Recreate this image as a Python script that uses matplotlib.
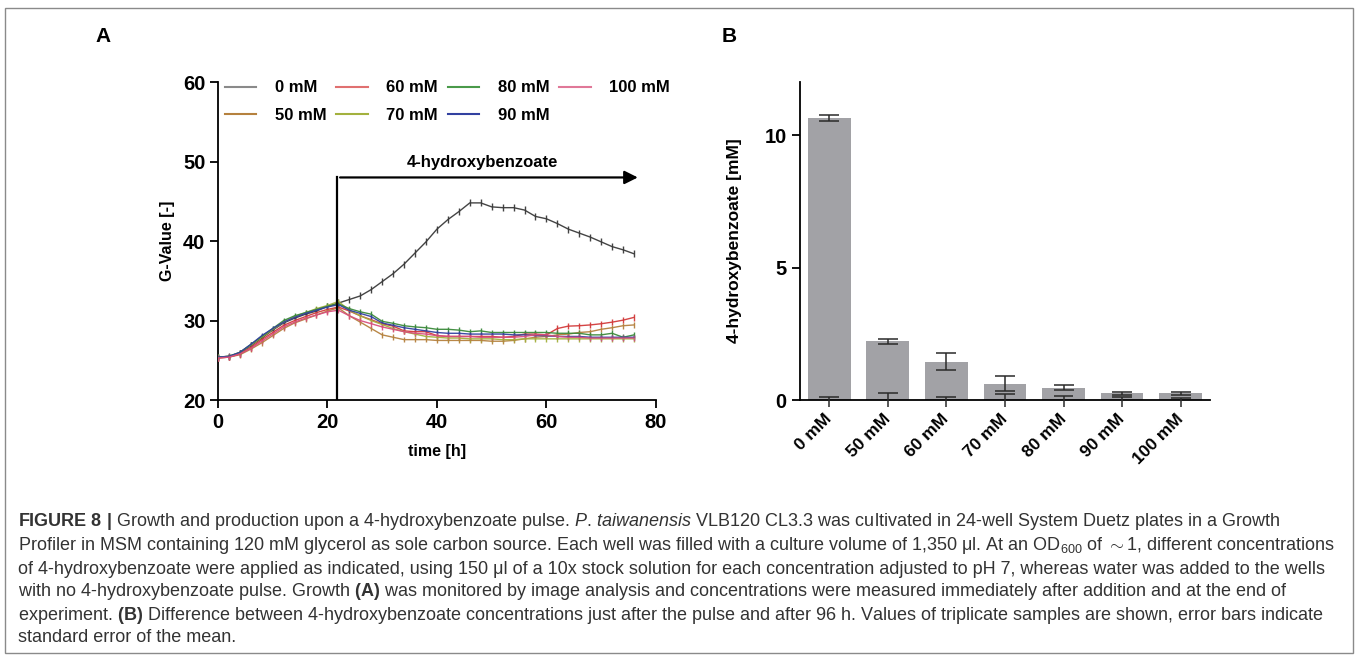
import numpy as np
import matplotlib
matplotlib.use("Agg")
import matplotlib.pyplot as plt
import matplotlib.transforms as mtransforms
from matplotlib.patches import Rectangle

plt.rcParams['font.family'] = ['Liberation Sans', 'DejaVu Sans']
plt.rcParams['mathtext.fontset'] = 'custom'
plt.rcParams['mathtext.rm'] = 'Liberation Sans'
plt.rcParams['mathtext.bf'] = 'Liberation Sans:bold'
plt.rcParams['mathtext.it'] = 'Liberation Sans:italic'

# --- panel A: growth curves (G-value vs time) ---
time_h = list(range(0, 78, 2))
pulse_t = 21.8

g0 = [25.4, 25.5, 25.9, 26.8, 27.8, 28.8, 29.7, 30.3, 30.8, 31.2, 31.8, 32.2,
      32.65, 33.1, 33.9, 34.9, 35.9, 37.1, 38.5, 39.9, 41.5, 42.7, 43.7, 44.8, 44.8,
      44.3, 44.2, 44.2, 43.9, 43.1, 42.8, 42.2, 41.5, 41.0, 40.5, 39.9, 39.3, 38.9, 38.4]
g50 = [25.3, 25.4, 25.7, 26.4, 27.2, 28.1, 29.0, 29.7, 30.2, 30.7, 31.2, 31.6,
       30.6, 29.8, 29.0, 28.2, 27.9, 27.6, 27.6, 27.6, 27.5, 27.5, 27.5, 27.5, 27.5,
       27.4, 27.4, 27.5, 27.7, 27.9, 28.0, 28.2, 28.3, 28.5, 28.6, 28.9, 29.1, 29.35, 29.45]
g60 = [25.3, 25.4, 25.8, 26.6, 27.6, 28.5, 29.4, 30.0, 30.5, 31.0, 31.4, 31.7,
       31.2, 30.6, 30.1, 29.6, 29.3, 28.7, 28.6, 28.6, 28.1, 28.0, 28.0, 28.0, 28.0,
       28.0, 27.9, 28.0, 28.3, 28.3, 28.2, 29.0, 29.3, 29.35, 29.45, 29.6, 29.8, 30.05, 30.4]
g70 = [25.4, 25.5, 26.0, 26.9, 27.9, 28.9, 29.8, 30.5, 31.0, 31.5, 31.9, 32.4,
       31.3, 30.6, 30.0, 29.5, 29.0, 28.6, 28.3, 28.0, 27.9, 27.8, 27.8, 27.7, 27.7,
       27.7, 27.6, 27.6, 27.7, 27.7, 27.7, 27.7, 27.7, 27.7, 27.7, 27.7, 27.7, 27.7, 27.7]
g80 = [25.4, 25.5, 26.0, 27.0, 28.0, 29.0, 30.0, 30.6, 31.0, 31.4, 31.8, 32.1,
       31.5, 31.1, 30.8, 29.9, 29.65, 29.35, 29.2, 29.1, 28.9, 28.9, 28.8, 28.6, 28.7,
       28.5, 28.5, 28.5, 28.5, 28.5, 28.5, 28.4, 28.4, 28.4, 28.2, 28.2, 28.4, 27.9, 28.2]
g90 = [25.4, 25.5, 26.0, 27.0, 28.1, 29.0, 29.8, 30.4, 30.9, 31.3, 31.7, 32.0,
       31.3, 30.9, 30.5, 29.7, 29.4, 29.1, 28.9, 28.7, 28.5, 28.4, 28.4, 28.3, 28.3,
       28.3, 28.3, 28.2, 28.2, 28.1, 28.1, 28.0, 28.0, 28.0, 27.9, 27.9, 27.9, 27.9, 27.9]
g100 = [25.3, 25.4, 25.8, 26.5, 27.4, 28.3, 29.2, 29.8, 30.3, 30.7, 31.1, 31.3,
        30.6, 30.0, 29.6, 29.2, 28.9, 28.6, 28.4, 28.3, 28.1, 28.0, 28.0, 28.0, 27.9,
        27.9, 27.9, 27.9, 28.0, 28.2, 28.2, 28.0, 27.9, 27.9, 27.8, 27.8, 27.8, 27.8, 27.8]

labels_a = ["0 mM", "50 mM", "60 mM", "70 mM", "80 mM", "90 mM", "100 mM"]
series_a = [g0, g50, g60, g70, g80, g90, g100]
err_a = [0.45, 0.35, 0.4, 0.35, 0.35, 0.3, 0.35]
colors_a = ["#3a3a3a", "#b5813e", "#d23a3a", "#a3b13e", "#3b8a3b", "#3241a0", "#d8507e"]
legend_cols = ["#8a8a8a", "#b5813e", "#e07070", "#a3b13e", "#4a9a4a", "#3241a0", "#e07898"]

# --- panel B: 4-hydroxybenzoate difference ---
conc = ["0 mM", "50 mM", "60 mM", "70 mM", "80 mM", "90 mM", "100 mM"]
diff = [10.65, 2.22, 1.45, 0.62, 0.47, 0.25, 0.25]
diff_sem = [0.12, 0.09, 0.33, 0.27, 0.08, 0.05, 0.05]
low_cap = [0.10, 0.25, 0.12, 0.23, 0.17, 0.10, 0.06]
low_end = -0.25

fig = plt.figure(figsize=(13.58, 6.58), dpi=100)

axA = fig.add_axes([0.1605, 0.392, 0.3225, 0.4833])
for i in range(len(series_a)):
    axA.errorbar(time_h, series_a[i], yerr=err_a[i], color=colors_a[i], lw=1.0,
                 elinewidth=1.0, ecolor=colors_a[i], capsize=0, alpha=0.95, zorder=3)
handles = []
for i in range(len(series_a)):
    h, = axA.plot([], [], color=legend_cols[i], lw=1.5, label=labels_a[i])
    handles.append(h)
axA.set_xlim(0, 80)
axA.set_ylim(20, 60)
axA.set_xticks([0, 20, 40, 60, 80])
axA.set_yticks([20, 30, 40, 50, 60])
for s in ["top", "right"]:
    axA.spines[s].set_visible(False)
for s in ["left", "bottom"]:
    axA.spines[s].set_linewidth(1.3)
axA.tick_params(direction="out", length=6, width=1.3, labelsize=14.5, pad=3)
for lab in axA.get_xticklabels() + axA.get_yticklabels():
    lab.set_fontweight("bold")
axA.set_xlabel("time [h]", fontsize=11.5, fontweight="bold", labelpad=9)
axA.set_ylabel("G-Value [-]", fontsize=11.5, fontweight="bold")
axA.yaxis.set_label_coords(-0.098, 0.5)

# pulse marker
axA.plot([pulse_t, pulse_t], [20, 48], color="black", lw=1.6, zorder=4)
axA.annotate("", xy=(77.2, 48), xytext=(pulse_t, 48),
             arrowprops=dict(arrowstyle="-|>", lw=1.6, color="black", mutation_scale=20))
axA.text(48.3, 48.9, "4-hydroxybenzoate", ha="center", va="bottom",
         fontsize=12, fontweight="bold")

leg = axA.legend(handles, labels_a, ncol=4, loc="upper left", bbox_to_anchor=(0.015, 1.005),
                 frameon=False, borderaxespad=0, borderpad=0, handlelength=1.9,
                 handletextpad=1.1, columnspacing=0.6, labelspacing=0.75,
                 prop={"size": 12, "weight": "bold"})

axB = fig.add_axes([0.589, 0.392, 0.302, 0.4833])
xb = np.arange(len(conc))
axB.bar(xb, diff, width=0.73, color="#a2a2a6", zorder=2)
axB.errorbar(xb, diff, yerr=diff_sem, fmt="none", ecolor="#2a2a2a", elinewidth=1.1,
             capsize=7, capthick=1.1, zorder=3)
axB.vlines(xb, low_end, low_cap, color="#2a2a2a", lw=1.1, clip_on=False, zorder=3)
axB.hlines(low_cap, xb - 0.17, xb + 0.17, color="#2a2a2a", lw=1.1, zorder=3)
axB.set_xlim(-0.5, 6.5)
axB.set_ylim(0, 12)
axB.set_yticks([0, 5, 10])
axB.set_xticks(xb)
axB.set_xticklabels(conc, rotation=45, ha="right", va="center", rotation_mode="anchor",
                    fontsize=12.5, fontweight="bold")
shift = mtransforms.ScaledTranslation(14 / 100, 0, fig.dpi_scale_trans)
for lab in axB.get_xticklabels():
    lab.set_transform(lab.get_transform() + shift)
for s in ["top", "right"]:
    axB.spines[s].set_visible(False)
for s in ["left", "bottom"]:
    axB.spines[s].set_linewidth(1.3)
axB.tick_params(axis="y", direction="out", length=6, width=1.3, labelsize=14.5)
axB.tick_params(axis="x", length=0, pad=12)
for lab in axB.get_yticklabels():
    lab.set_fontweight("bold")
axB.set_ylabel("4-hydroxybenzoate [mM]", fontsize=12.5, fontweight="bold")
axB.yaxis.set_label_coords(-0.14, 0.5)

fig.text(103 / 1358, 1 - 36 / 658, "A", fontsize=15, fontweight="bold", ha="center", va="center")
fig.text(729 / 1358, 1 - 37 / 658, "B", fontsize=15, fontweight="bold", ha="center", va="center")

cap_lines = [
    r"$\mathbf{FIGURE\ 8\ |}$ Growth and production upon a 4-hydroxybenzoate pulse. $\mathit{P.\,taiwanensis}$ VLB120 CL3.3 was cultivated in 24-well System Duetz plates in a Growth",
    r"Profiler in MSM containing 120 mM glycerol as sole carbon source. Each well was filled with a culture volume of 1,350 μl. At an OD$_{600}$ of ${\sim}$1, different concentrations",
    r"of 4-hydroxybenzoate were applied as indicated, using 150 μl of a 10x stock solution for each concentration adjusted to pH 7, whereas water was added to the wells",
    r"with no 4-hydroxybenzoate pulse. Growth $\mathbf{(A)}$ was monitored by image analysis and concentrations were measured immediately after addition and at the end of",
    r"experiment. $\mathbf{(B)}$ Difference between 4-hydroxybenzoate concentrations just after the pulse and after 96 h. Values of triplicate samples are shown, error bars indicate",
    r"standard error of the mean.",
]
cap_y = [522, 546, 569, 592, 615, 638]
cap_texts = []
for line, y in zip(cap_lines, cap_y):
    t = fig.text(18 / 1358, 1 - y / 658, line, fontsize=12, color="#333333", ha="left",
                 va="center")
    cap_texts.append(t)

# fit caption width to the reference line length (~1312 px for line 2)
fig.canvas.draw()
rend = fig.canvas.get_renderer()
w = cap_texts[1].get_window_extent(rend).width
fs = 12 * 1312 / w
for t in cap_texts:
    t.set_fontsize(fs)

fig.add_artist(Rectangle((5 / 1358, 1 - 653 / 658), 1348 / 1358, 645 / 658,
                         transform=fig.transFigure, fill=False, ec="#8a8a8a", lw=1.0))

fig.savefig("out.png", dpi=100)
